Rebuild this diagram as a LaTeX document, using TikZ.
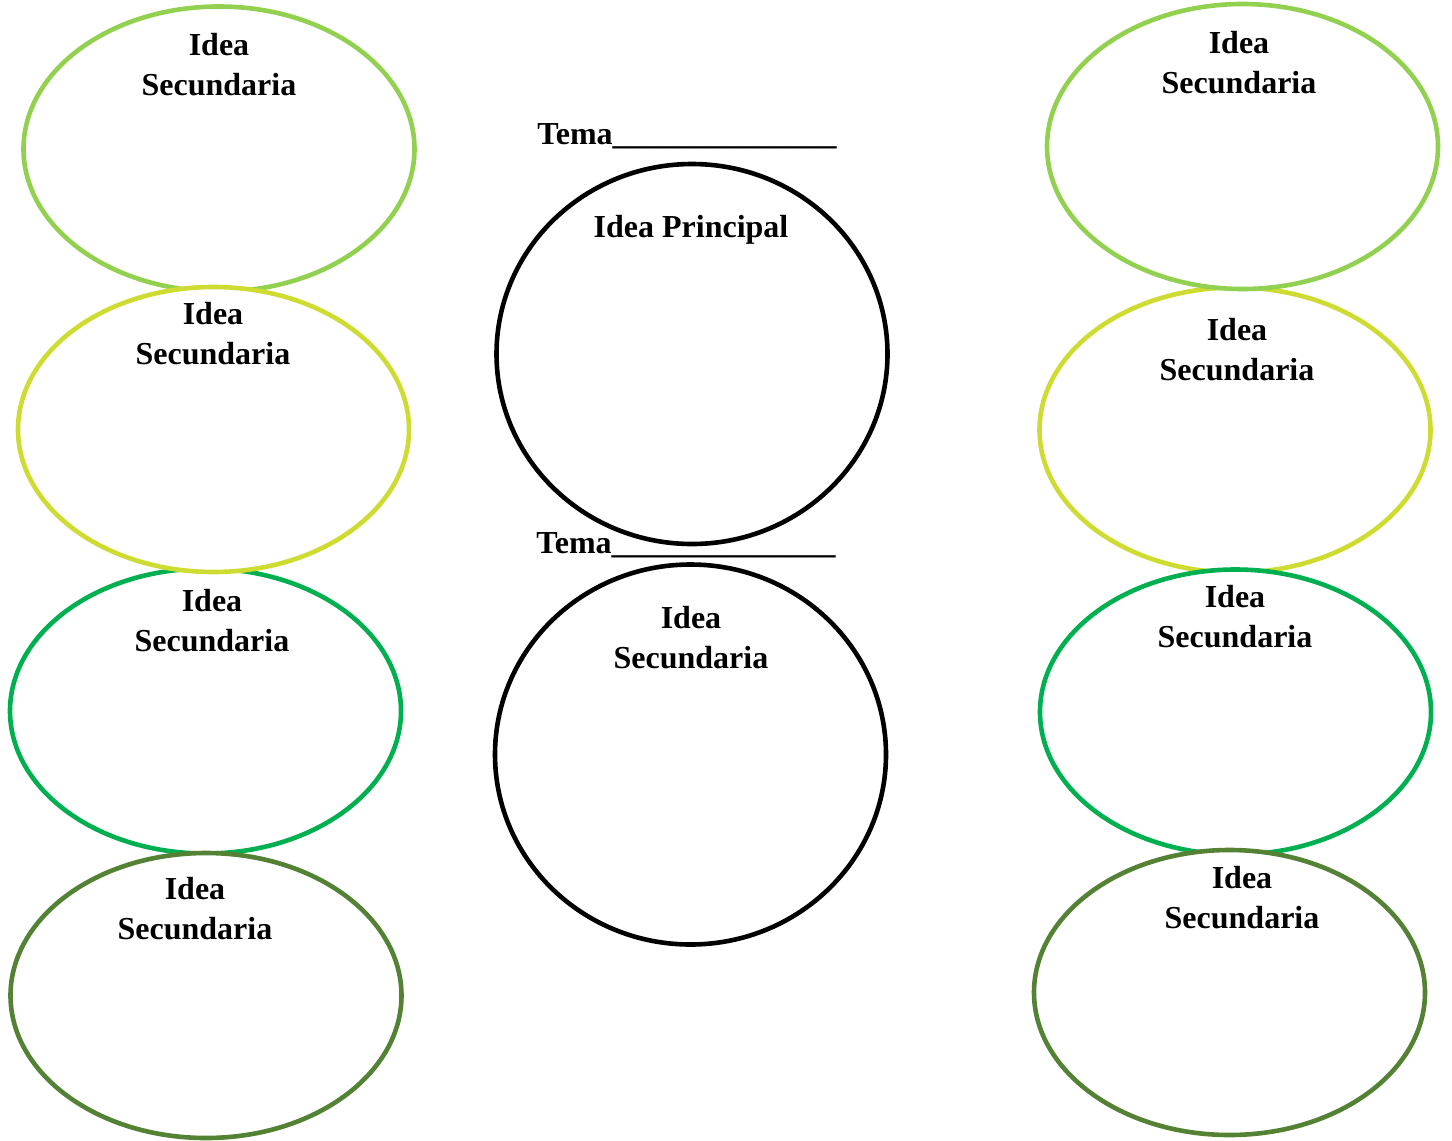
\documentclass[tikz,border=0pt]{standalone}
\usepackage{fontspec}
\setmainfont{Liberation Serif}
\usetikzlibrary{shapes.geometric}
\definecolor{ideaone}{RGB}{146,208,80}
\definecolor{ideatwo}{RGB}{206,220,50}
\definecolor{ideathree}{RGB}{0,176,80}
\definecolor{ideafour}{RGB}{84,130,53}

\begin{document}
\begin{tikzpicture}[x=0.5pt,y=-0.5pt]
            \tikzstyle{every node} = [font=\fontsize{16}{20}\selectfont\bfseries, inner sep=0pt]
            \tikzstyle{idea} = [ellipse, draw, fill=white, line width=2.3pt, minimum width=195.5pt, minimum height=142.5pt]
            \tikzstyle{ideatext} = [align=center, anchor=base]
            \useasboundingbox (0,0) rectangle (1452,1141);
            \node[idea, draw=ideaone] (left1) at (219,149) {};
            \node[idea, draw=ideathree] (left3) at (205.5,711) {};
            \node[idea, draw=ideatwo] (left2) at (213.5,429.5) {};
            \node[idea, draw=ideafour] (left4) at (206,995.5) {};
            \node[idea, draw=ideatwo] (right2) at (1235,430) {};
            \node[idea, draw=ideaone] (right1) at (1242.5,146.5) {};
            \node[idea, draw=ideathree] (right3) at (1235.5,712) {};
            \node[idea, draw=ideafour] (right4) at (1229.5,992.5) {};
            \node[idea, draw=black, minimum height=190pt] (main) at (692,354) {};
            \node[idea, draw=black, minimum height=190pt] (second) at (690.5,754.5) {};
            \node[ideatext] (left1text) at (219,95) {Idea\\Secundaria};
            \node[ideatext] (left2text) at (213,364) {Idea\\Secundaria};
            \node[ideatext] (left3text) at (212,651) {Idea\\Secundaria};
            \node[ideatext] (left4text) at (195,939) {Idea\\Secundaria};
            \node[ideatext] (right1text) at (1239,93) {Idea\\Secundaria};
            \node[ideatext] (right2text) at (1237,380) {Idea\\Secundaria};
            \node[ideatext] (right3text) at (1235,647) {Idea\\Secundaria};
            \node[ideatext] (right4text) at (1242,928) {Idea\\Secundaria};
            \node[ideatext] (maintext) at (691,237) {Idea Principal};
            \node[ideatext] (secondtext) at (691,668) {Idea\\Secundaria};
            \node[anchor=base west] (tema1) at (537,144) {Tema\_\_\_\_\_\_\_\_\_\_\_\_\_\_};
            \node[anchor=base west] (tema2) at (536,553) {Tema\_\_\_\_\_\_\_\_\_\_\_\_\_\_};
        \end{tikzpicture}
\end{document}
